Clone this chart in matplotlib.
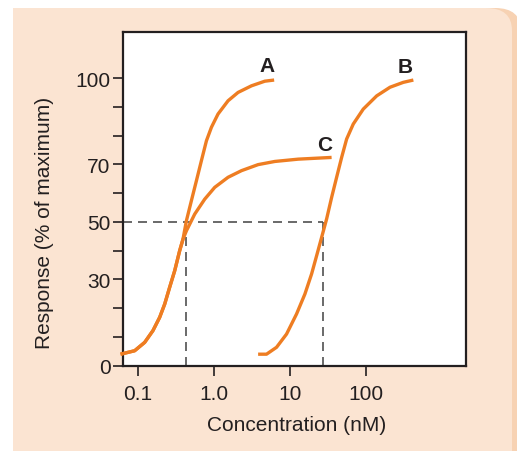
import numpy as np
import matplotlib
matplotlib.use('Agg')
import matplotlib.pyplot as plt
from matplotlib.patches import FancyBboxPatch, Rectangle

plt.rcParams['font.family'] = ['Liberation Sans', 'DejaVu Sans']

# values (concentration in nM, response in %)
# A and C share the same foot below ~45 %
a_x = [0.059, 0.0905, 0.1226, 0.1576, 0.1931, 0.2248, 0.2617, 0.3044, 0.3542,
       0.3917, 0.4343, 0.5053, 0.5879, 0.6843, 0.7965, 0.9271, 1.132, 1.534,
       2.077, 3.120, 4.670, 6.193]
a_y = [4.0, 5.2, 8.1, 12.2, 16.8, 21.4, 27.3, 33.0, 40.0,
       44.0, 50.4, 57.4, 64.3, 71.3, 78.2, 82.9, 87.5, 92.1,
       95.0, 97.3, 98.9, 99.3]

c_x = [0.059, 0.0905, 0.1226, 0.1576, 0.1931, 0.2248, 0.2617, 0.3044, 0.3542,
       0.3917, 0.4343, 0.5585, 0.7564, 1.024, 1.534, 2.303, 3.811, 6.326,
       12.83, 35.3]
c_y = [4.0, 5.2, 8.1, 12.2, 16.8, 21.4, 27.3, 33.0, 40.0,
       44.0, 46.9, 52.7, 57.9, 62.0, 65.5, 67.8, 69.9, 71.0,
       71.8, 72.4]

b_x = [3.811, 4.917, 6.661, 9.02, 12.22, 15.72, 19.26, 22.41, 26.09, 30.35,
       35.33, 41.11, 47.84, 55.67, 68.03, 92.1, 138.4, 207.2, 310.0, 420.1]
b_y = [4.0, 4.0, 6.4, 11.0, 18.0, 24.9, 31.9, 38.2, 44.6, 51.0,
       58.5, 65.5, 72.4, 78.8, 84.0, 89.2, 93.8, 96.8, 98.5, 99.3]

curve_labels = ['A', 'B', 'C']
label_x = [5.0, 326, 28.6]
label_y = [104.5, 104, 77]

ec50_a = 0.434
ec50_b = 27.0
half = 50

x_ticks = [0.1, 1.0, 10, 100]
x_ticklabels = ['0.1', '1.0', '10', '100']
y_ticks = np.arange(0, 101, 10)
y_labelled = [0, 30, 50, 70, 100]

orange = '#EE7D22'
peach = '#FBE4D2'
ink = '#231F20'

fig = plt.figure(figsize=(5.17, 4.52), dpi=100, facecolor='white')

# rounded peach panel behind the chart, with a darker rim on the right
W, H = 517, 452
shadow = FancyBboxPatch((17 / W, -0.1), (517 - 13) / W, (452 - 9) / H + 0.1,
                        boxstyle='round,pad=0,rounding_size=0.05',
                        transform=fig.transFigure, facecolor='#F7D2B3',
                        edgecolor='none', zorder=-3)
panel = FancyBboxPatch((13 / W, -0.1), (512 - 13) / W, (452 - 9) / H + 0.1,
                       boxstyle='round,pad=0,rounding_size=0.05',
                       transform=fig.transFigure, facecolor=peach,
                       edgecolor='none', zorder=-2)
fig.patches.extend([shadow, panel])
fig.patches.append(Rectangle((13 / W, 1 - 60 / H), 40 / W, 51 / H,
                             transform=fig.transFigure, facecolor=peach,
                             edgecolor='none', zorder=-2))

ax = fig.add_axes([123 / W, 1 - 366.7 / H, (466 - 123) / W, (366.7 - 33) / H])
ax.set_zorder(1)
ax.set_facecolor('white')
ax.set_xscale('log')
ax.set_xlim(0.0636, 2070)
ax.set_ylim(0, 116)

for sp in ax.spines.values():
    sp.set_linewidth(1.6)
    sp.set_color(ink)

ax.set_xticks(x_ticks)
ax.set_xticklabels(x_ticklabels)
ax.xaxis.set_minor_locator(matplotlib.ticker.NullLocator())
ax.set_yticks(y_ticks)
ax.set_yticklabels([str(v) if v in y_labelled else '' for v in y_ticks])
ax.tick_params(axis='both', length=7, width=1.2, color=ink, labelcolor=ink,
               labelsize=15)
ax.tick_params(axis='x', pad=6)
ax.tick_params(axis='y', pad=2)

# dashed guides at half-maximal response
dash = dict(ls=(0, (5.4, 3.6)), color='#505050', lw=1.2)
ax.plot([ax.get_xlim()[0], ec50_b], [half, half], **dash)
ax.plot([ec50_a, ec50_a], [0, half], **dash)
ax.plot([ec50_b, ec50_b], [0, half], **dash)

for xs, ys in [(a_x, a_y), (c_x, c_y), (b_x, b_y)]:
    ax.plot(xs, ys, color=orange, lw=2.4, solid_capstyle='butt',
            solid_joinstyle='round', clip_on=False, zorder=3)

for name, lx, ly in zip(curve_labels, label_x, label_y):
    ax.text(lx, ly, name, fontsize=15, fontweight='bold', color=ink,
            ha='center', va='center')

fig.text(297 / W, 1 - 426 / H, 'Concentration (nM)', fontsize=15, color=ink,
         ha='center', va='center')
fig.text(45 / W, 1 - 223 / H, 'Response (% of maximum)', fontsize=15, color=ink,
         ha='center', va='center', rotation=90)

fig.savefig('out.png', dpi=100, facecolor=fig.get_facecolor())
